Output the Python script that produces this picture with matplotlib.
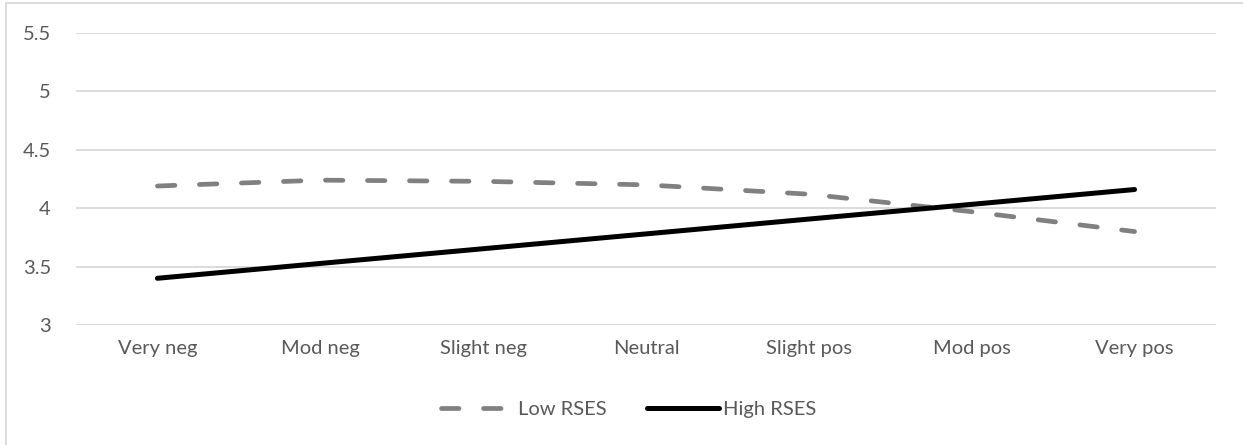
import matplotlib.pyplot as plt
from matplotlib.patches import Rectangle

categorias = ["Very neg", "Mod neg", "Slight neg", "Neutral", "Slight pos", "Mod pos", "Very pos"]
low_rses = [4.19, 4.24, 4.23, 4.20, 4.12, 3.97, 3.80]
high_rses = [3.40, 3.527, 3.653, 3.78, 3.907, 4.033, 4.16]
yticks = [3, 3.5, 4, 4.5, 5, 5.5]
ytick_labels = ["3", "3.5", "4", "4.5", "5", "5.5"]

plt.rcParams['font.family'] = ['Lato', 'DejaVu Sans']
cinza_texto = '#595959'
cinza_grade = '#d9d9d9'

fig = plt.figure(figsize=(12.43, 4.45), dpi=100)
ax = fig.add_axes([76 / 1243, 120 / 445, (1216 - 76) / 1243, (325 - 33) / 445])

x = list(range(len(categorias)))
ax.plot(x, low_rses, color='#808080', lw=3.4, dashes=(3.7, 5.2),
        dash_capstyle='round', solid_capstyle='round', label='Low RSES')
ax.plot(x, high_rses, color='black', lw=3.6, solid_capstyle='round', label='High RSES')

ax.set_xlim(-0.5, len(categorias) - 0.5)
ax.set_ylim(3, 5.5)
ax.set_yticks(yticks)
ax.set_yticklabels(ytick_labels)
ax.set_xticks(x)
ax.set_xticklabels(categorias)
ax.grid(axis='y', color=cinza_grade, lw=1.3)
ax.set_axisbelow(True)
for s in ax.spines.values():
    s.set_visible(False)
ax.tick_params(axis='both', length=0, labelsize=14.5, colors=cinza_texto)
ax.tick_params(axis='y', pad=18)
ax.tick_params(axis='x', pad=11)

fig.legend(loc='center', bbox_to_anchor=(629 / 1243, 1 - 409 / 445), ncol=2,
           frameon=False, fontsize=14.5, handlelength=3.6, handletextpad=0.2,
           columnspacing=2.0, labelcolor=cinza_texto)

# moldura externa do grafico
fig.patches.append(Rectangle((6 / 1243, -0.1), 1.2, 1.1 - 3 / 445, transform=fig.transFigure,
                             fill=False, edgecolor=cinza_grade, lw=1.3))

fig.savefig('out.png', dpi=100, facecolor='white')
